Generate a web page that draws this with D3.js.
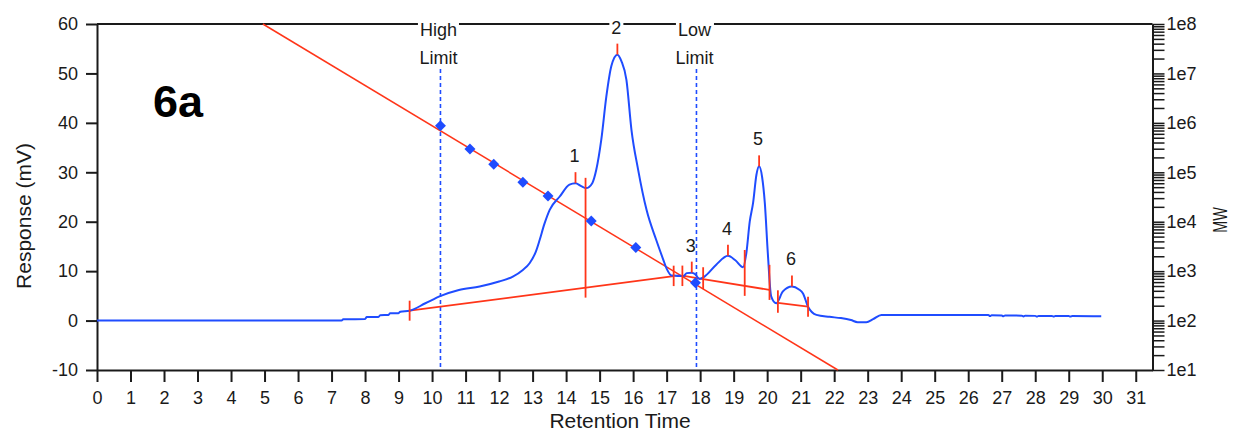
<!DOCTYPE html>
<html><head><meta charset="utf-8">
<script src="https://cdn.jsdelivr.net/npm/d3@7"></script>
<style>
html,body{margin:0;padding:0;background:#fff;}
svg{display:block;font-family:"Liberation Sans",Arial,sans-serif;}
</style></head>
<body>
<svg id="chart" width="1233" height="434"></svg>
<script>
// ---------- data ----------
const xTicks = d3.range(0, 32);
const yTicks = [-10, 0, 10, 20, 30, 40, 50, 60];
const mwTickLabels = ["1e1","1e2","1e3","1e4","1e5","1e6","1e7","1e8"];
const mwTickValues = [1e1,1e2,1e3,1e4,1e5,1e6,1e7,1e8];

// chromatogram trace: [retention time, response mV]
const trace = [
 [0,0],[7.3,0],[7.35,0.28],[8.0,0.3],[8.05,0.7],[8.4,0.7],[8.45,1.1],[8.7,1.15],[8.75,1.5],[9.0,1.5],[9.05,1.8],
 [9.33,2.0],[9.8,3.5],[10.26,5.0],[10.8,6.2],[11.42,6.9],[12.0,7.9],[12.41,8.9],[12.7,10.2],[12.91,11.6],
 [13.1,14.0],[13.21,16.3],[13.35,19.5],[13.51,22.4],[13.81,25.1],[14.1,27.5],[14.28,27.8],[14.45,27.2],
 [14.6,26.8],[14.78,27.8],[14.9,30.5],[15.05,36.6],[15.2,45.3],[15.35,51.5],[15.53,53.8],[15.65,52.5],
 [15.8,48.7],[15.95,38.6],[16.15,30.5],[16.4,22.4],[16.69,16.3],[16.89,12.5],[17.0,10.5],[17.15,9.1],
 [17.5,9.0],[17.6,9.6],[17.75,9.7],[17.85,9.4],[17.98,8.4],[18.13,8.9],[18.48,11.3],[18.83,13.1],
 [19.05,12.2],[19.28,10.8],[19.38,13.7],[19.48,20.0],[19.58,23.8],[19.68,29.5],[19.76,31.2],[19.85,29.0],
 [19.93,23.8],[20.02,13.6],[20.12,4.9],[20.27,3.5],[20.47,5.9],[20.74,6.9],[20.95,6.3],[21.07,5.5],
 [21.22,2.8],[21.47,1.15],[21.86,0.75],[22.2,0.5],[22.5,0.1],[22.7,-0.33],[22.96,-0.33],[23.16,0.28],
 [23.41,1.15],[26.6,1.15],[26.65,0.9],[26.7,1.1],[27.0,1.05],[27.05,0.85],[27.1,1.05],[27.6,1.0],
 [27.65,0.8],[27.7,1.0],[28.0,0.95],[28.05,0.8],[28.1,0.95],[28.5,0.95],[28.55,0.8],[28.6,0.95],
 [29.0,0.9],[29.05,0.8],[29.1,0.9],[29.97,0.85]
];

// calibration curve (log MW vs time) end points: [time, MW]
const calLine = [[4.95,1e8],[22.11,1e1]];
// calibration standards: [time, MW]
const calPoints = [[10.25,8.7e5],[11.13,2.96e5],[11.84,1.45e5],[12.71,6.3e4],[13.46,3.3e4],[14.75,1.03e4],[16.08,3.0e3],[17.86,5.8e2]];

// limits
const limitNames = ["High","Low"];
const limitTimes = [10.25,17.89];

// integration baselines: segments [[t0,v0],[t1,v1]]
const baselines = [
 [[9.33,2.0],[17.21,9.0]],
 [[17.47,9.1],[18.09,8.4]],
 [[18.09,8.4],[20.07,6.2]],
 [[20.32,3.6],[21.22,2.8]]
];
// peak boundaries (time)
const boundaries = [9.33,14.58,17.21,17.47,18.09,19.33,20.07,20.32,21.22];
// peak apexes
const peakNames = ["1","2","3","4","5","6"];
const peakTimes = [14.28,15.53,17.75,18.83,19.76,20.74];
const peakValues = [27.8,53.8,9.7,13.1,31.2,6.9];

// ---------- layout ----------
const svg = d3.select("#chart");
const BLUE = "#1f4cff", RED = "#ff3519", INK = "#1a1a1a";
const x = d3.scaleLinear().domain([0,31.5]).range([97,1152.5]);
const y = d3.scaleLinear().domain([-10,60]).range([370,24]);
const yMW = d3.scaleLog().domain([1e1,1e8]).range([370,24]);

// frame top
svg.append("line").attr("x1",x(0)).attr("x2",x(31.5)).attr("y1",y(60)).attr("y2",y(60))
  .attr("stroke",INK).attr("stroke-width",2);

// left axis
const gL = svg.append("g").attr("transform",`translate(${x(0)},0)`)
  .call(d3.axisLeft(y).tickValues(yTicks).tickSize(11).tickPadding(8).tickSizeOuter(0).tickFormat(d=>String(d)));
// bottom axis
const gB = svg.append("g").attr("transform",`translate(0,${y(-10)})`)
  .call(d3.axisBottom(x).tickValues(xTicks).tickSize(12).tickPadding(9).tickSizeOuter(0).tickFormat(d=>String(d)));
// right axis (log MW)
const minor = [];
for (let e=1;e<8;e++) for (let m=1;m<10;m++) minor.push(m*Math.pow(10,e));
minor.push(1e8);
const gR = svg.append("g").attr("transform",`translate(${x(31.5)},0)`)
  .call(d3.axisRight(yMW).tickValues(minor).tickSize(12).tickSizeOuter(0)
    .tickFormat(d => { const i = mwTickValues.indexOf(d); return i>=0 ? mwTickLabels[i] : ""; }));
gR.selectAll(".tick text").attr("x",14);
[gL,gB,gR].forEach(g=>{
  g.select(".domain").attr("stroke",INK).attr("stroke-width",2);
  g.selectAll(".tick line").attr("stroke",INK).attr("stroke-width",2);
  g.selectAll(".tick text").attr("fill",INK).style("font-size","18px").style("font-family","'Liberation Sans',Arial,sans-serif");
});
gR.selectAll(".tick line").attr("stroke-width",1.5);

// axis titles
svg.append("text").attr("x",620).attr("y",428).attr("text-anchor","middle")
  .style("font-size","21px").attr("fill",INK).text("Retention Time");
svg.append("text").attr("transform","translate(31,216) rotate(-90)").attr("text-anchor","middle")
  .style("font-size","21px").attr("fill",INK).text("Response (mV)");
svg.append("text").attr("transform","translate(1227,220) rotate(-90) scale(0.72,1)").attr("text-anchor","middle")
  .style("font-size","20px").attr("fill",INK).text("MW");

// big panel tag
svg.append("text").attr("x",153).attr("y",117).style("font-size","45px").style("font-weight","bold")
  .attr("fill","#000").text("6a");

// limit lines
limitTimes.forEach((t,i)=>{
  svg.append("line").attr("x1",x(t)).attr("x2",x(t)).attr("y1",69).attr("y2",y(-10))
    .attr("stroke",BLUE).attr("stroke-width",1.6).attr("stroke-dasharray","4,3");
});

// calibration line
svg.append("path").datum(calLine)
  .attr("d",d3.line().x(d=>x(d[0])).y(d=>yMW(d[1])))
  .attr("stroke",RED).attr("stroke-width",1.5).attr("fill","none");

// baselines
baselines.forEach(seg=>{
  svg.append("path").datum(seg).attr("d",d3.line().x(d=>x(d[0])).y(d=>y(d[1])))
    .attr("stroke",RED).attr("stroke-width",1.8).attr("fill","none");
});

// trace value at time (interpolated from trace data)
const bis = d3.bisector(d=>d[0]).left;
function traceAt(t){
  const i = Math.max(1, Math.min(trace.length-1, bis(trace,t)));
  const a = trace[i-1], b = trace[i];
  return a[1] + (b[1]-a[1])*(t-a[0])/(b[0]-a[0]);
}
function baseAt(t){
  for (const s of baselines){
    if (t>=s[0][0]-1e-9 && t<=s[1][0]+1e-9) return s[0][1] + (s[1][1]-s[0][1])*(t-s[0][0])/(s[1][0]-s[0][0]);
  }
  return traceAt(t);
}

// trace
svg.append("path").datum(trace)
  .attr("d",d3.line().x(d=>x(d[0])).y(d=>y(d[1])).curve(d3.curveMonotoneX))
  .attr("stroke",BLUE).attr("stroke-width",2).attr("fill","none");

// boundary ticks
boundaries.forEach(t=>{
  const a = y(traceAt(t)), b = y(baseAt(t));
  svg.append("line").attr("x1",x(t)).attr("x2",x(t))
    .attr("y1",Math.min(a,b)-10).attr("y2",Math.max(a,b)+10)
    .attr("stroke",RED).attr("stroke-width",1.8);
});
// apex ticks
peakTimes.forEach((t,i)=>{
  const py = y(peakValues[i]);
  svg.append("line").attr("x1",x(t)).attr("x2",x(t)).attr("y1",py-11).attr("y2",py)
    .attr("stroke",RED).attr("stroke-width",1.8);
});

// calibration points (diamonds)
svg.selectAll(".cal").data(calPoints).enter().append("path")
  .attr("d",d3.symbol().type(d3.symbolSquare).size(60))
  .attr("transform",d=>`translate(${x(d[0])},${yMW(d[1])}) rotate(45)`)
  .attr("fill",BLUE);

// labels with white background where they sit on the top frame
function label(tx,ty,str,bg){
  const t = svg.append("text").attr("x",tx).attr("y",ty).attr("text-anchor","middle")
    .style("font-size","18px").attr("fill",INK).text(str);
  if (bg){
    const bb = t.node().getBBox();
    svg.insert("rect", function(){return t.node();})
      .attr("x",bb.x-2).attr("y",bb.y).attr("width",bb.width+4).attr("height",bb.height).attr("fill","#fff");
  }
}
peakTimes.forEach((t,i)=>{
  label(x(t)-1, y(peakValues[i])-21, peakNames[i], peakValues[i]>50);
});
limitTimes.forEach((t,i)=>{
  label(x(t)-2, 36, limitNames[i], true);
  label(x(t)-2, 64, "Limit", false);
});
</script>
</body></html>
